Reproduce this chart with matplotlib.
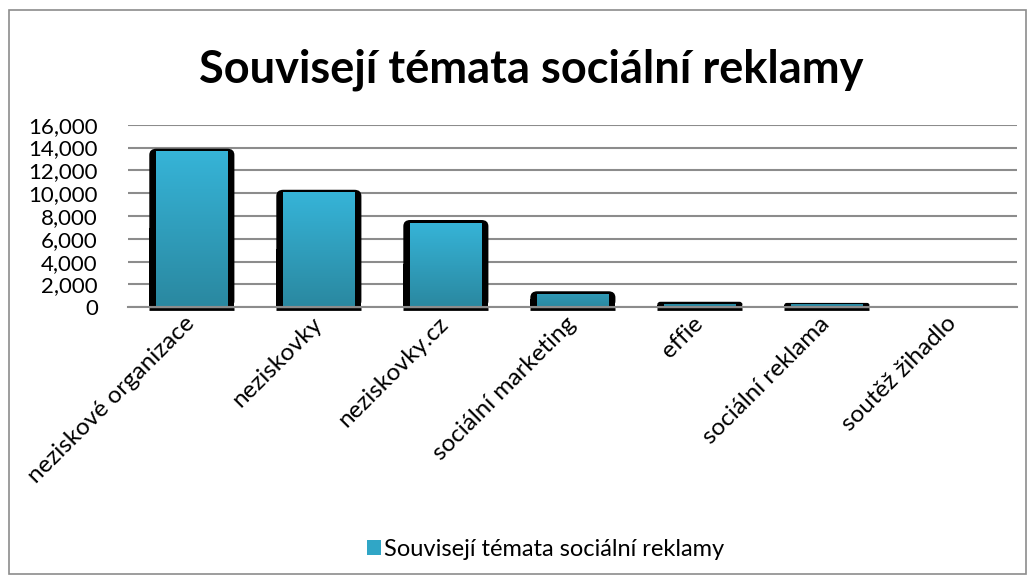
import numpy as np
import matplotlib.pyplot as plt
from matplotlib.patches import FancyBboxPatch, Rectangle, Patch
from matplotlib.colors import LinearSegmentedColormap
from matplotlib.transforms import ScaledTranslation

plt.rcParams['font.family'] = ['Lato', 'DejaVu Sans']

# data
categories = ['neziskové organizace', 'neziskovky', 'neziskovky.cz',
              'sociální marketing', 'effie', 'sociální reklama', 'soutěž žihadlo']
values = [13900, 10300, 7650, 1400, 480, 380, 0]
series = 'Souvisejí témata sociální reklamy'

fig = plt.figure(figsize=(10.35, 5.83), dpi=100)
ax = fig.add_axes([0.124, 0.473, 0.859, 0.313])

# outer chart border
fig.patches.append(Rectangle((0.009, 0.016), 0.982, 0.967, transform=fig.transFigure,
                             fill=False, ec='#8c8c8c', lw=1.2))

x = np.arange(len(categories))
bars = ax.bar(x, values, width=0.67, color='none', zorder=3)

cmap = LinearSegmentedColormap.from_list('teal', ['#2a88a0', '#36b4d8'])
grad = np.linspace(0, 1, 256).reshape(-1, 1)
aspect = 10000
for b in bars:
    x0, y0, w, h = b.get_x(), b.get_y(), b.get_width(), b.get_height()
    if h <= 0:
        continue
    rs = min(0.055, h / aspect / 2)
    outer = FancyBboxPatch((x0, y0), w, h,
                           boxstyle=f'round,pad=0,rounding_size={rs}',
                           mutation_aspect=aspect, fc='black', ec='none', zorder=3)
    ax.add_patch(outer)
    ax.add_patch(Rectangle((x0, y0), w, h / 2, fc='black', ec='none', zorder=3))
    ix0, iw = x0 + 0.055, w - 0.11
    ih = h - min(220, h * 0.35)
    inner = Rectangle((ix0, y0), iw, ih, fc='none', ec='none')
    ax.add_patch(inner)
    im = ax.imshow(grad, cmap=cmap, aspect='auto', origin='lower',
                   extent=(ix0, ix0 + iw, y0, y0 + max(ih, 3000)), zorder=4)
    im.set_clip_path(inner)
    ax.plot([x0, x0 + w], [-120, -120], color='black', lw=2, zorder=5,
            solid_capstyle='butt', clip_on=False)

ax.set_xlim(-0.5, len(categories) - 0.5)
ax.set_ylim(0, 16000)
ax.set_yticks(np.arange(0, 16001, 2000))
ax.set_yticklabels([f'{v:,}' for v in range(0, 16001, 2000)])
ax.grid(axis='y', color='#8c8c8c', lw=1.5, zorder=0)
ax.set_axisbelow(True)
for s in ['top', 'right', 'left']:
    ax.spines[s].set_visible(False)
ax.spines['bottom'].set_color('#8c8c8c')
ax.spines['bottom'].set_linewidth(1.5)
ax.spines['bottom'].set_zorder(6)
ax.tick_params(axis='y', length=0, pad=22, labelsize=16)
ax.tick_params(axis='x', length=0, pad=4, labelsize=17.5)
ax.set_xticks(x)
ax.set_xticklabels(categories, rotation=45, ha='right', rotation_mode='anchor')
shift = ScaledTranslation(-8 / 100, 0, fig.dpi_scale_trans)
for lbl in ax.get_xticklabels():
    lbl.set_transform(lbl.get_transform() + shift)

fig.text(0.513, 0.88, series, ha='center', va='center', fontsize=32.5, fontweight='bold')

fig.legend(handles=[Patch(fc='#30a6c6', ec='none')], labels=[series],
           loc='center', bbox_to_anchor=(0.527, 0.058), frameon=False,
           fontsize=17, handlelength=0.6, handleheight=0.6, handletextpad=0.15)

fig.savefig('out.png', dpi=100)
